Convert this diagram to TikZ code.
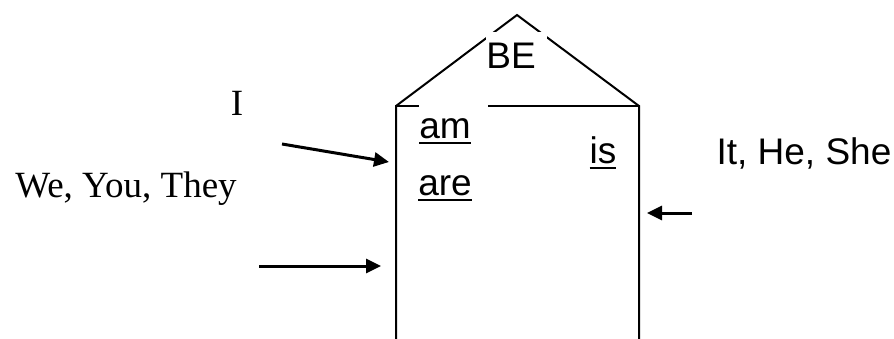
\documentclass[tikz,border=0pt]{standalone}
\usepackage{fontspec}
\setmainfont{Liberation Serif}
\newfontfamily\arialfont{Liberation Sans}
\usetikzlibrary{arrows.meta}
\newcommand\myul[1]{\setbox0\hbox{#1}\rlap{\rule[-6pt]{\wd0}{2.5pt}}\box0}
\tikzset{
  wall/.style={line width=2pt, line cap=rect},
  ptr/.style={line width=3pt, -{Triangle[length=15pt,width=14pt]}},
  sanslbl/.style={font=\arialfont\fontsize{37}{44}\selectfont, inner sep=0pt, anchor=base},
  seriflbl/.style={font=\fontsize{37}{44}\selectfont, inner sep=0pt, anchor=base},
  mask/.style={fill=white, inner sep=0pt, anchor=north west}
}
\begin{document}
\begin{tikzpicture}[x=1pt,y=-1pt]
\useasboundingbox (0,0) rectangle (894,338);
% house outline
\coordinate (apex) at (517,15);
\coordinate (leave) at (396,106);
\coordinate (reave) at (639,106);
\coordinate (lbot) at (396,340);
\coordinate (rbot) at (639,340);
\draw[wall] (lbot) -- (leave) -- (apex) -- (reave) -- (rbot);
\draw[wall] (leave) -- (reave);
% text frames (white) covering the lines
\node[mask, minimum width=61pt, minimum height=48pt] (roofmask) at (486,32) {};
\node[mask, minimum width=69pt, minimum height=44pt] (ammask) at (419,104) {};
% labels
\node[sanslbl] (be) at (511,68) {BE};
\node[sanslbl] (am) at (445,138) {\myul{am}};
\node[sanslbl] (are) at (445,195) {\myul{are}};
\node[sanslbl] (is) at (603,163) {\myul{is}};
\node[sanslbl] (ihs) at (804,164) {It, He, She};
\node[seriflbl] (i) at (237,115) {I};
\node[seriflbl] (wyt) at (126,197) {We, You, They};
% arrows
\coordinate (a1s) at (282,144);
\coordinate (a1e) at (389,162);
\coordinate (a2s) at (259,266);
\coordinate (a2e) at (381,266);
\coordinate (a3s) at (692,213);
\coordinate (a3e) at (647,213);
\draw[ptr] (a1s) -- (a1e);
\draw[ptr] (a2s) -- (a2e);
\draw[ptr] (a3s) -- (a3e);
\end{tikzpicture}
\end{document}
